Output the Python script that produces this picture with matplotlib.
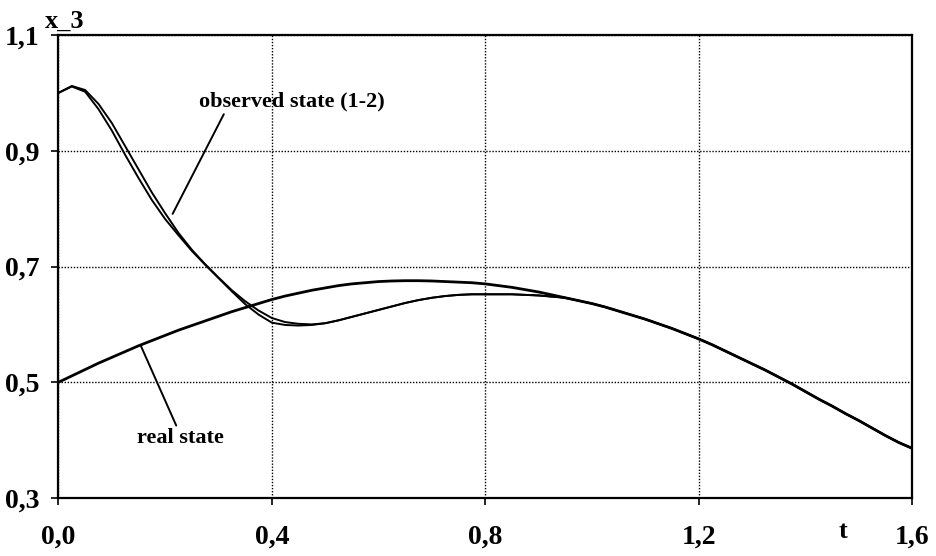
import numpy as np
import matplotlib.pyplot as plt

plt.rcParams['font.family'] = ['Liberation Serif', 'DejaVu Serif']
plt.rcParams['font.weight'] = 'bold'

t = np.linspace(0.0, 1.6, 65)

# real state x_3(t), step 0.025
real = [0.500, 0.511, 0.522, 0.533, 0.543, 0.553, 0.563, 0.572, 0.581, 0.590,
        0.598, 0.606, 0.614, 0.622, 0.629, 0.636, 0.643, 0.649, 0.654, 0.659,
        0.663, 0.667, 0.670, 0.672, 0.674, 0.675, 0.6755, 0.6755, 0.675, 0.674,
        0.673, 0.672, 0.670, 0.667, 0.664, 0.660, 0.656, 0.651, 0.646, 0.641,
        0.636, 0.630, 0.623, 0.616, 0.609, 0.601, 0.593, 0.584, 0.575, 0.565,
        0.554, 0.543, 0.532, 0.521, 0.509, 0.497, 0.484, 0.471, 0.459, 0.446,
        0.434, 0.421, 0.408, 0.396, 0.386]

# observed states 1 and 2 up to t = 0.95, afterwards they follow the real state
obs1 = [1.000, 1.011, 1.002, 0.972, 0.935, 0.893, 0.853, 0.815, 0.782, 0.754,
        0.727, 0.703, 0.680, 0.657, 0.635, 0.617, 0.603, 0.599, 0.598, 0.599,
        0.602, 0.607, 0.613, 0.619, 0.625, 0.631, 0.637, 0.642, 0.646, 0.649,
        0.651, 0.652, 0.652, 0.652, 0.652, 0.651, 0.650, 0.648, 0.646]
obs2 = [1.000, 1.012, 1.005, 0.981, 0.948, 0.908, 0.868, 0.828, 0.792, 0.758,
        0.729, 0.704, 0.681, 0.659, 0.640, 0.624, 0.611, 0.604, 0.601, 0.600,
        0.602, 0.607, 0.613, 0.619, 0.625, 0.631, 0.637, 0.642, 0.646, 0.649,
        0.651, 0.652, 0.652, 0.652, 0.652, 0.651, 0.650, 0.648, 0.646]

n = len(obs1)
obs1_full = np.concatenate([obs1, real[n:]])
obs2_full = np.concatenate([obs2, real[n:]])

fig = plt.figure(figsize=(9.37, 5.56), dpi=100)
ax = fig.add_axes([0.0624, 0.1043, 0.9109, 0.8327])

ax.plot(t, real, color='black', lw=2.0)
ax.plot(t, obs1_full, color='black', lw=1.4)
ax.plot(t, obs2_full, color='black', lw=1.4)

ax.set_xlim(0, 1.6)
ax.set_ylim(0.3, 1.1)
ax.set_xticks([0.0, 0.4, 0.8, 1.2, 1.6])
ax.set_xticklabels(['0,0', '0,4', '0,8', '1,2', '1,6'])
ax.set_yticks([0.3, 0.5, 0.7, 0.9, 1.1])
ax.set_yticklabels(['0,3', '0,5', '0,7', '0,9', '1,1'])
ax.tick_params(direction='out', length=5, width=1.2, labelsize=20)
ax.tick_params(axis='x', pad=14)
ax.tick_params(axis='y', pad=9)
ax.grid(True, color='black', linestyle=(0, (1, 1.2)), linewidth=1.0)
for s in ax.spines.values():
    s.set_linewidth(1.6)

ax.text(0.0125, 1.124, 'x_3', fontsize=19, ha='center', va='center')
ax.text(1.47, 0.242, 't', fontsize=19, ha='center', va='center')

ax.annotate('observed state (1-2)', xy=(0.214, 0.791), xytext=(0.438, 0.968),
            fontsize=16, ha='center', va='bottom',
            arrowprops=dict(arrowstyle='-', color='black', lw=1.4,
                            shrinkA=0, shrinkB=0, relpos=(0.14, 0.0)))
ax.annotate('real state', xy=(0.1546, 0.5626), xytext=(0.228, 0.4204),
            fontsize=16, ha='center', va='top',
            arrowprops=dict(arrowstyle='-', color='black', lw=1.4,
                            shrinkA=0, shrinkB=0, relpos=(0.47, 1.0)))

fig.savefig('out.png', dpi=100)
